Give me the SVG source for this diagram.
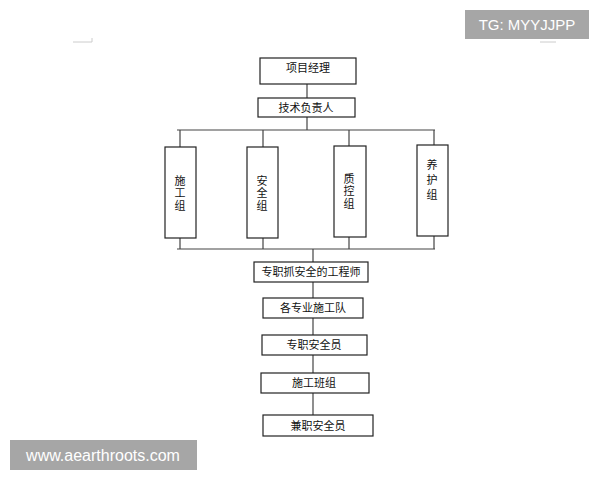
<svg xmlns="http://www.w3.org/2000/svg" width="600" height="480" viewBox="0 0 600 480">
<style>
.box{fill:#fff;stroke:#222;stroke-width:1.2}
.t{font-family:"Noto Sans CJK SC","Noto Sans",sans-serif;font-size:11px;fill:#111;text-anchor:middle;dominant-baseline:central}
.v{font-family:"Noto Sans CJK SC","Noto Sans",sans-serif;font-size:11px;fill:#111;text-anchor:middle;writing-mode:vertical-rl;letter-spacing:1.5px}
.ln{stroke:#444;stroke-width:1.2;fill:none}
.wm{fill:#a6a6a6}
.wt{font-family:"Liberation Sans",Arial,sans-serif;fill:#fff}
</style>
<rect width="600" height="480" fill="#fff"/>
<g id="marks" stroke="#ccc" stroke-width="1" fill="none">
<path d="M73 42 H92 V38"/>
<path d="M540 42 H556"/>
</g>
<g id="connectors">
<path class="ln" d="M307 84 V98"/>
<path class="ln" d="M307 117 V130"/>
<path class="ln" d="M177 130 H435"/>
<path class="ln" d="M180 130 V147 M263 130 V147 M349 130 V146 M434 130 V145"/>
<path class="ln" d="M180 238 V249 M263 238 V249 M349 237 V249 M434 236 V249"/>
<path class="ln" d="M177 249 H435"/>
<path class="ln" d="M313 249 V262"/>
<path class="ln" d="M313 282 V298"/>
<path class="ln" d="M313 318 V335"/>
<path class="ln" d="M313 355 V373"/>
<path class="ln" d="M313 393 V415"/>
</g>
<g id="n1"><rect class="box" x="260" y="58" width="96" height="26"/><text class="t" x="308" y="67">项目经理</text></g>
<g id="n2"><rect class="box" x="258" y="98" width="97" height="19"/><text class="t" x="306" y="107">技术负责人</text></g>
<g id="n3"><rect class="box" x="165" y="147" width="31" height="91"/><text class="v" x="180" y="194">施工组</text></g>
<g id="n4"><rect class="box" x="247" y="147" width="31" height="91"/><text class="v" x="262" y="194">安全组</text></g>
<g id="n5"><rect class="box" x="334" y="146" width="32" height="91"/><text class="v" x="349" y="192">质控组</text></g>
<g id="n6"><rect class="box" x="417" y="145" width="31" height="91"/><text class="v" x="432" y="182" style="letter-spacing:4px">养护组</text></g>
<g id="n7"><rect class="box" x="254" y="262" width="114" height="20"/><text class="t" x="311" y="271">专职抓安全的工程师</text></g>
<g id="n8"><rect class="box" x="263" y="298" width="100" height="20"/><text class="t" x="313" y="307">各专业施工队</text></g>
<g id="n9"><rect class="box" x="262" y="335" width="105" height="20"/><text class="t" x="314" y="344">专职安全员</text></g>
<g id="n10"><rect class="box" x="261" y="373" width="108" height="20"/><text class="t" x="314" y="382">施工班组</text></g>
<g id="n11"><rect class="box" x="263" y="415" width="110" height="21"/><text class="t" x="318" y="425">兼职安全员</text></g>
<g id="wm1"><rect class="wm" x="465" y="10" width="124" height="29"/><text class="wt" x="527" y="30" font-size="15" text-anchor="middle">TG: MYYJJPP</text></g>
<g id="wm2"><rect class="wm" x="10" y="440" width="187" height="30"/><text class="wt" x="103" y="461" font-size="16" text-anchor="middle">www.aearthroots.com</text></g>
</svg>
